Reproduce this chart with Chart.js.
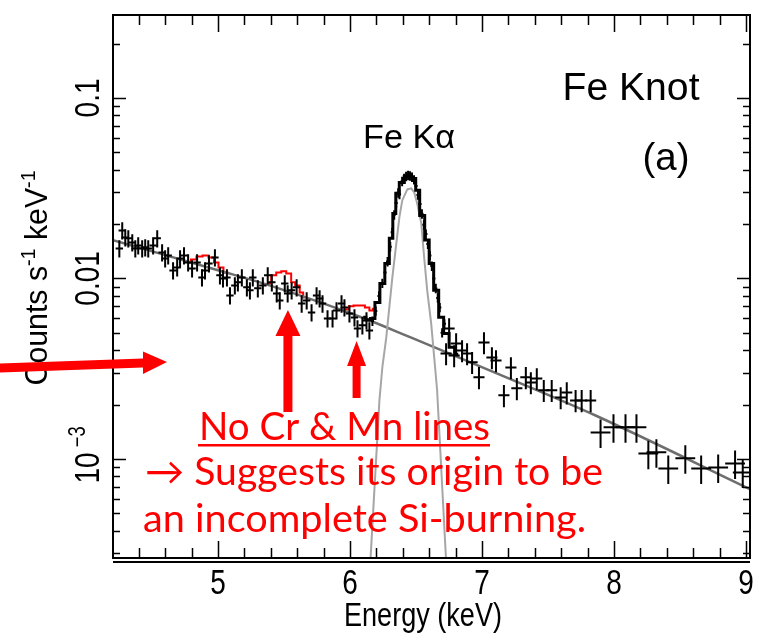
<!DOCTYPE html>
<html>
<head>
<meta charset="utf-8">
<script src="https://cdn.jsdelivr.net/npm/chart.js@4.4.0/dist/chart.umd.min.js"></script>
<style>
html, body { margin: 0; padding: 0; background: #fff; }
</style>
</head>
<body>
<canvas id="graficoFe" width="759" height="640"></canvas>
<script>
// axis ranges and tick values
const xMin = 4.205, xMax = 9.03;
const yMin = 2.825e-4, yMax = 0.288;
const xTicks = [5, 6, 7, 8, 9];
const yTicks = [0.1, 0.01, 0.001];

// observed spectrum (energy keV, counts s-1 keV-1), split by bin size
const softE = [4.253,4.275,4.298,4.321,4.351,4.374,4.396,4.426,4.449,4.472,4.509,4.540,4.577,4.600,4.623,4.660,4.691,4.713,4.743,4.774,4.804,4.842,4.879,4.902,4.932,4.977,5.015,5.038,5.068,5.091,5.128,5.151,5.181,5.219,5.242,5.264,5.302,5.340,5.377,5.408,5.445,5.468,5.506,5.528,5.558,5.596,5.634,5.672,5.709,5.747,5.770,5.792,5.830,5.868,5.898,5.936,5.958,5.996,6.034,6.057,6.094,6.125,6.147];
const softRate = [0.01466,0.01845,0.01687,0.01667,0.01582,0.01466,0.01524,0.01466,0.01486,0.01466,0.01524,0.01667,0.01393,0.01291,0.01340,0.01107,0.01151,0.01291,0.01340,0.01227,0.01136,0.01227,0.01013,0.01107,0.01211,0.01306,0.01040,0.01000,0.01013,0.00805,0.00915,0.00951,0.01013,0.00892,0.00859,0.01013,0.00881,0.00915,0.01040,0.00951,0.00826,0.00755,0.00938,0.00826,0.00859,0.00892,0.00726,0.00755,0.00648,0.00805,0.00775,0.00726,0.00600,0.00600,0.00665,0.00726,0.00691,0.00640,0.00608,0.00528,0.00550,0.00585,0.00515];

const peakE = [6.170,6.195,6.220,6.245,6.265,6.285,6.305,6.320,6.335,6.350,6.365,6.375,6.395,6.410,6.425,6.440,6.455,6.470,6.485,6.500,6.515,6.530,6.545,6.560,6.575,6.590,6.605,6.620,6.635,6.650,6.665,6.680,6.698,6.715];
const peakRate = [0.0058,0.0066,0.0080,0.0094,0.0108,0.0124,0.0150,0.0180,0.0225,0.0262,0.0298,0.0292,0.0345,0.0358,0.0368,0.0372,0.0370,0.0364,0.0352,0.0325,0.0290,0.0258,0.0228,0.0198,0.0176,0.0155,0.0134,0.0117,0.0100,0.0088,0.0078,0.0069,0.0050,0.0056];

const hardE = [6.728,6.751,6.789,6.804,6.849,6.887,6.925,6.977,7.015,7.075,7.106,7.166,7.219,7.264,7.332,7.370,7.415,7.468,7.528,7.596,7.642,7.709,7.755,7.823];
const hardRate = [0.00384,0.00528,0.00374,0.00436,0.00399,0.00384,0.00343,0.00283,0.00442,0.00365,0.00351,0.00225,0.00321,0.00246,0.00283,0.00265,0.00279,0.00240,0.00240,0.00219,0.00233,0.00211,0.00211,0.00211];

const tailE = [7.898,7.996,8.087,8.170,8.260,8.321,8.411,8.540,8.660,8.789,8.917,8.975];
const tailRate = [0.00140,0.00150,0.00150,0.00150,0.00107,0.00109,0.000885,0.00101,0.000885,0.000897,0.000944,0.000841];

// half bin width (keV) and relative error of each group
const binHalf = [0.028, 0.012, 0.042, 0.075];
const relErr = [0.11, 0.06, 0.14, 0.18];

// model curves
const contE = [4.205, 5.0, 5.39, 6.11, 6.46, 7.13, 7.86, 9.03];
const contRate = [0.0163, 0.0111, 0.00915, 0.0060, 0.00471, 0.00294, 0.00174, 0.00068];

const feModelE = [6.10,6.14,6.17,6.208,6.245,6.283,6.313,6.336,6.358,6.389,6.434,6.487,6.509,6.547,6.585,6.615,6.653,6.691,6.728,6.774,6.82];
const feModelRate = [0.0061,0.0059,0.0060,0.00736,0.00938,0.0121,0.0167,0.0229,0.0296,0.0340,0.0367,0.0358,0.0308,0.0223,0.0163,0.0121,0.0086,0.0061,0.00495,0.00415,0.0038];

const gaussE = [6.14,6.155,6.223,6.245,6.275,6.298,6.321,6.351,6.374,6.396,6.434,6.464,6.487,6.509,6.540,6.562,6.585,6.615,6.638,6.660,6.728,6.743];
const gaussRate = [0.00018,0.000274,0.00211,0.00321,0.00471,0.00691,0.01013,0.01563,0.02178,0.02704,0.03112,0.03155,0.02992,0.02606,0.02018,0.01306,0.00859,0.00564,0.00365,0.00240,0.000274,0.00018];

// model with Cr and Mn lines (only where it departs from the fit)
const crMnE = [4.78,4.811,4.864,4.902,4.955,4.985,5.023,5.060,5.08,5.2,5.37,5.392,5.415,5.468,5.491,5.543,5.566,5.604,5.634,5.657,5.8,5.95,5.974,6.011,6.042,6.094,6.132,6.162,6.185];
const crMnRate = [0.0122,0.01273,0.01324,0.01340,0.01306,0.01227,0.01151,0.01079,0.0107,null,0.0093,0.00938,0.0104,0.0108,0.01094,0.01066,0.00951,0.00915,0.00836,0.00785,null,0.0066,0.00673,0.0070,0.00708,0.00708,0.0069,0.00665,0.0068];

// arrows pointing at Cr and Mn energies
const arrowE = [5.53, 6.05];

const groupes = [
    [softE, softRate], [peakE, peakRate], [hardE, hardRate], [tailE, tailRate]
];

function pts(es, rs){
    return es.map((e, i) => ({x: e, y: rs[i]}));
}

const axeFont = "'Liberation Sans', Arial, sans-serif";
const rougeFont = "Lato, 'Open Sans', sans-serif";

function ecrire(ctx, s, x, y, font, largeur, align){
    ctx.save();
    ctx.font = font;
    let w = ctx.measureText(s).width;
    let k = largeur ? largeur / w : 0.8;
    ctx.translate(x, y);
    ctx.scale(k, 1);
    ctx.textAlign = align || "center";
    ctx.textBaseline = "alphabetic";
    ctx.fillText(s, 0, 0);
    ctx.restore();
}

// rotated text made of pieces [texte, font, raise]
function ecrireVertical(ctx, pieces, xBase, yCentre, largeur){
    ctx.save();
    let total = 0;
    let ws = pieces.map(p => { ctx.font = p[1]; let w = ctx.measureText(p[0]).width; total += w; return w; });
    let k = largeur ? largeur / total : 0.8;
    ctx.translate(xBase, yCentre);
    ctx.rotate(-Math.PI / 2);
    ctx.scale(k, 1);
    ctx.textAlign = "left";
    ctx.textBaseline = "alphabetic";
    let pos = -total / 2;
    pieces.forEach((p, i) => {
        ctx.font = p[1];
        ctx.fillText(p[0], pos, -p[2]);
        pos += ws[i];
    });
    ctx.restore();
}

function fleche(ctx, points){
    ctx.beginPath();
    ctx.moveTo(points[0][0], points[0][1]);
    for(let i = 1; i < points.length; i++) ctx.lineTo(points[i][0], points[i][1]);
    ctx.closePath();
    ctx.fill();
}

const dessin = {
    id: "dessin",
    afterDatasetsDraw(chart){
        const ctx = chart.ctx;
        const a = chart.chartArea;
        const x = chart.scales.x, y = chart.scales.y;

        // data points with error bars
        ctx.save();
        ctx.beginPath();
        ctx.rect(a.left, a.top, a.right - a.left, a.bottom - a.top);
        ctx.clip();
        ctx.strokeStyle = "#000";
        ctx.lineWidth = 2;
        groupes.forEach((g, gi) => {
            g[0].forEach((e, i) => {
                let r = g[1][i];
                let px = x.getPixelForValue(e), py = y.getPixelForValue(r);
                ctx.beginPath();
                ctx.moveTo(x.getPixelForValue(e - binHalf[gi]), py);
                ctx.lineTo(x.getPixelForValue(e + binHalf[gi]), py);
                ctx.moveTo(px, y.getPixelForValue(r * (1 + relErr[gi])));
                ctx.lineTo(px, y.getPixelForValue(r * (1 - relErr[gi])));
                ctx.stroke();
            });
        });
        ctx.restore();

        // frame
        ctx.save();
        ctx.strokeStyle = "#000";
        ctx.lineWidth = 2;
        ctx.strokeRect(a.left, a.top, a.right - a.left, a.bottom - a.top);
        ctx.beginPath();
        ctx.moveTo(a.left, a.bottom + 4);
        ctx.lineTo(a.right, a.bottom + 4);
        ctx.stroke();

        // inward ticks
        ctx.lineWidth = 1.5;
        ctx.beginPath();
        for(let v = 4.4; v < xMax; v += 0.2){
            let major = Math.abs(v - Math.round(v)) < 0.01;
            let px = Math.round(x.getPixelForValue(v)) + 0.5;
            let l = major ? 17 : 10;
            ctx.moveTo(px, a.bottom); ctx.lineTo(px, a.bottom - l);
            ctx.moveTo(px, a.top); ctx.lineTo(px, a.top + l);
        }
        for(let d = -4; d <= -1; d++){
            for(let m = 1; m <= 9; m++){
                let v = m * Math.pow(10, d);
                if(v < yMin || v > yMax) continue;
                let py = Math.round(y.getPixelForValue(v)) + 0.5;
                let l = m === 1 ? 13 : 7;
                ctx.moveTo(a.left, py); ctx.lineTo(a.left + l, py);
                ctx.moveTo(a.right, py); ctx.lineTo(a.right - l, py);
            }
        }
        ctx.stroke();

        // axis labels
        ctx.fillStyle = "#000";
        xTicks.forEach(v => {
            ecrire(ctx, String(v), x.getPixelForValue(v), a.bottom + 36, "35px " + axeFont, null, "center");
        });
        ecrire(ctx, "Energy (keV)", 423, 626, "34px " + axeFont, 158, "center");

        const tf = "35px " + axeFont, sf = "23px " + axeFont;
        ecrireVertical(ctx, [["0.1", tf, 0]], 99, y.getPixelForValue(yTicks[0]), null);
        ecrireVertical(ctx, [["0.01", tf, 0]], 99, y.getPixelForValue(yTicks[1]), null);
        ecrireVertical(ctx, [["10", tf, 0], [" \u22123", sf, 14]], 99, y.getPixelForValue(yTicks[2]) - 4, null);

        const gf = "31px " + axeFont, gs = "20px " + axeFont;
        ecrireVertical(ctx, [["Counts s", gf, 0], ["-1", gs, 12], [" keV", gf, 0], ["-1", gs, 12]], 47, 278, 215);

        ecrire(ctx, "Fe Knot", 631, 100, "38px " + axeFont, 137, "center");
        ecrire(ctx, "(a)", 666, 170, "38px " + axeFont, 47, "center");
        ecrire(ctx, "Fe K\u03b1", 409, 148, "34px " + axeFont, 92, "center");

        // red annotation
        ctx.fillStyle = "#ff0000";
        ecrire(ctx, "No Cr & Mn lines", 199, 440, "38px " + rougeFont, 291, "left");
        ctx.fillRect(198, 444, 292, 2.5);
        ecrire(ctx, "\u2192 Suggests its origin to be", 145, 485, "38px " + rougeFont, 458, "left");
        ecrire(ctx, "an incomplete Si-burning.", 143, 532, "38px " + rougeFont, 443, "left");

        let c1 = x.getPixelForValue(arrowE[0]);
        fleche(ctx, [[c1, 310], [c1 + 12.5, 336], [c1 + 4.5, 336], [c1 + 4.5, 412], [c1 - 4.5, 412], [c1 - 4.5, 336], [c1 - 12.5, 336]]);
        let c2 = x.getPixelForValue(arrowE[1]);
        fleche(ctx, [[c2, 341], [c2 + 9.5, 366], [c2 + 4, 366], [c2 + 4, 398], [c2 - 4, 398], [c2 - 4, 366], [c2 - 9.5, 366]]);
        fleche(ctx, [[0, 363.5], [143, 358.5], [143, 351.5], [167, 362], [143, 374], [143, 367.5], [0, 372.5]]);
        ctx.restore();
    }
};

let ctx = document.getElementById("graficoFe").getContext("2d");

let grafico = new Chart(ctx, {
    type: "line",
    data: {
        datasets: [
            {
                label: "Fe K model",
                data: pts(feModelE, feModelRate),
                borderColor: "#000",
                borderWidth: 3,
                stepped: "middle",
                pointRadius: 0
            },
            {
                label: "Gaussian",
                data: pts(gaussE, gaussRate),
                borderColor: "#a6a6a6",
                borderWidth: 2,
                pointRadius: 0
            },
            {
                label: "Continuum",
                data: pts(contE, contRate),
                borderColor: "#6e6e6e",
                borderWidth: 2.5,
                cubicInterpolationMode: "monotone",
                pointRadius: 0
            },
            {
                label: "Cr + Mn model",
                data: pts(crMnE, crMnRate),
                borderColor: "#ff0000",
                borderWidth: 2,
                stepped: "middle",
                spanGaps: false,
                pointRadius: 0
            }
        ]
    },
    options: {
        responsive: false,
        animation: false,
        devicePixelRatio: 1,
        layout: { padding: { top: 15, right: 9, left: 0, bottom: 0 } },
        plugins: { legend: { display: false }, tooltip: { enabled: false } },
        scales: {
            x: {
                type: "linear", min: xMin, max: xMax, bounds: "data",
                grid: { display: false }, border: { display: false },
                ticks: { display: false },
                afterFit: s => { s.height = 82; }
            },
            y: {
                type: "logarithmic", min: yMin, max: yMax, bounds: "data",
                grid: { display: false }, border: { display: false },
                ticks: { display: false },
                afterFit: s => { s.width = 113; }
            }
        }
    },
    plugins: [dessin]
});
</script>
</body>
</html>
